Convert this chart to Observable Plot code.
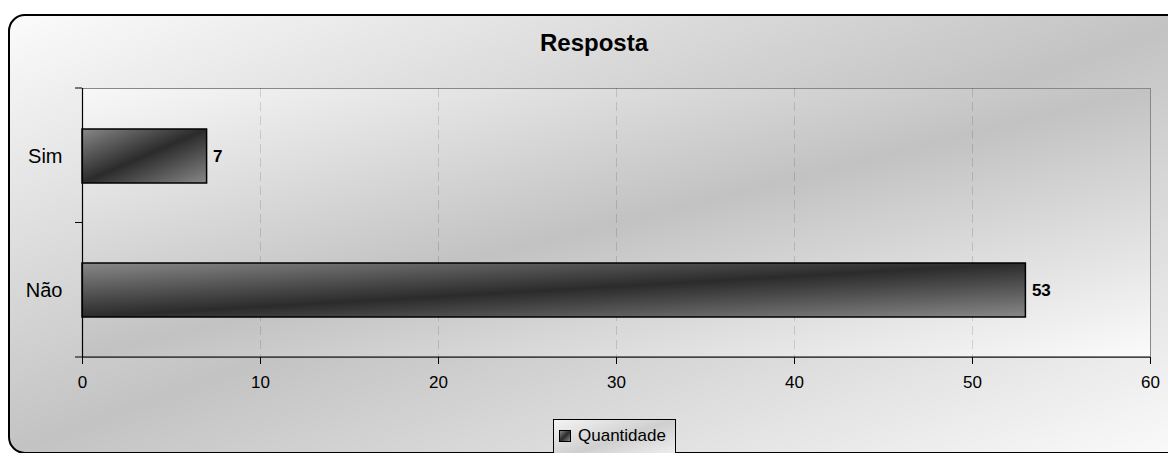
<!DOCTYPE html>
<html>
<head>
<meta charset="utf-8">
<script src="https://cdn.jsdelivr.net/npm/d3@7"></script>
<script src="https://cdn.jsdelivr.net/npm/@observablehq/plot@0.6"></script>
<style>
  html, body { margin: 0; padding: 0; background: #fff; }
  #page { position: relative; width: 1168px; height: 453px; overflow: hidden; font-family: "Liberation Sans", Arial, sans-serif; }
  #outer { position: absolute; left: 8px; top: 14px; width: 1190px; height: 436px; border: 2px solid #000; border-radius: 17px;
           background: linear-gradient(to bottom right, #fbfbfb 0%, #c3c3c3 50%, #fbfbfb 100%); }
  #title { position: absolute; left: 594px; top: 31px; transform: translateX(-50%); font-size: 24px; line-height: 23px; font-weight: bold; color: #000; white-space: nowrap; }
  #chart { position: absolute; left: 0; top: 60px; }
  #chart svg [aria-label="x-axis tick label"] text { font-size: 17px; }
  #chart svg [aria-label="y-axis tick label"] text { font-size: 20px; }
  #legend { position: absolute; left: 553px; top: 419px; width: 121px; height: 40px; border: 1px solid #000;
            background: linear-gradient(to bottom right, #f4f4f4 0%, #cfcfcf 50%, #f4f4f4 100%); }
  #legend .sw { position: absolute; left: 5px; top: 10px; width: 10px; height: 10px; border: 1px solid #000;
                background: linear-gradient(to bottom right, #858585, #2b2b2b 50%, #858585); }
  #legend .lb { position: absolute; left: 24px; top: 6px; font-size: 17px; line-height: 19px; color: #000; white-space: nowrap; }
</style>
</head>
<body>
<svg width="0" height="0" style="position:absolute">
  <defs>
    <linearGradient id="barGrad" x1="0" y1="0" x2="1" y2="1">
      <stop offset="0" stop-color="#888888"/>
      <stop offset="0.5" stop-color="#2b2b2b"/>
      <stop offset="1" stop-color="#888888"/>
    </linearGradient>
    <linearGradient id="plotGrad" x1="0" y1="0" x2="1" y2="1">
      <stop offset="0" stop-color="#f8f8f8"/>
      <stop offset="0.5" stop-color="#c2c2c2"/>
      <stop offset="1" stop-color="#fbfbfb"/>
    </linearGradient>
  </defs>
</svg>
<div id="page">
  <div id="outer"></div>
  <div id="title"></div>
  <div id="chart"></div>
  <div id="legend"><div class="sw"></div><div class="lb"></div></div>
</div>
<script>
// ---- data ----
const title = "Resposta";
const seriesName = "Quantidade";
const categories = ["Sim", "Não"];
const values = [7, 53];
const xTicks = [0, 10, 20, 30, 40, 50, 60];
const xDomain = [0, 60];

const data = categories.map((c, i) => ({category: c, value: values[i]}));

document.getElementById("title").textContent = title;
document.querySelector("#legend .lb").textContent = seriesName;

const plot = Plot.plot({
  width: 1168,
  height: 350,
  marginLeft: 82,
  marginRight: 18,
  marginTop: 28,
  marginBottom: 53,
  style: {background: "transparent", fontFamily: "'Liberation Sans', Arial, sans-serif", fontSize: "16px", color: "#000"},
  x: {domain: xDomain, ticks: xTicks},
  y: {domain: categories, paddingInner: 0.6, paddingOuter: 0.3},
  marks: [
    Plot.frame({stroke: "#888", fill: "url(#plotGrad)"}),
    Plot.gridX(xTicks.slice(1, -1), {stroke: "#000", strokeOpacity: 0.13, strokeDasharray: "9,5"}),
    Plot.barX(data, {x: "value", y: "category", fill: "url(#barGrad)", stroke: "#000", strokeWidth: 1.5}),
    Plot.text(data, {x: "value", y: "category", text: d => String(d.value), dx: 6, textAnchor: "start", fontWeight: "bold", fontSize: 17, fill: "#000"}),
    Plot.axisX({ticks: xTicks, tickSize: 7, tickPadding: 11, fontSize: 17, label: null, stroke: "#000"}),
    Plot.axisY({tickSize: 0, tickPadding: 20, fontSize: 20, label: null}),
    Plot.ruleX([0], {stroke: "#000", strokeWidth: 1.2})
  ]
});
document.getElementById("chart").appendChild(plot);

// y-axis boundary ticks and bottom axis line, positioned from the plot's scales
const ys = plot.scale("y");
const xs = plot.scale("x");
const [r0, r1] = ys.range;
const n = ys.domain.length;
const ns = "http://www.w3.org/2000/svg";
const g = document.createElementNS(ns, "g");
g.setAttribute("stroke", "#000");
for (let k = 0; k <= n; k++) {
  const y = r0 + k * (r1 - r0) / n;
  const l = document.createElementNS(ns, "line");
  l.setAttribute("x1", xs.apply(xDomain[0]) - 7);
  l.setAttribute("x2", xs.apply(xDomain[0]));
  l.setAttribute("y1", y); l.setAttribute("y2", y);
  g.appendChild(l);
}
const base = document.createElementNS(ns, "line");
base.setAttribute("x1", xs.apply(xDomain[0]));
base.setAttribute("x2", xs.apply(xDomain[1]));
base.setAttribute("y1", r1); base.setAttribute("y2", r1);
base.setAttribute("stroke-width", "1.2");
g.appendChild(base);
plot.appendChild(g);
</script>
</body>
</html>
